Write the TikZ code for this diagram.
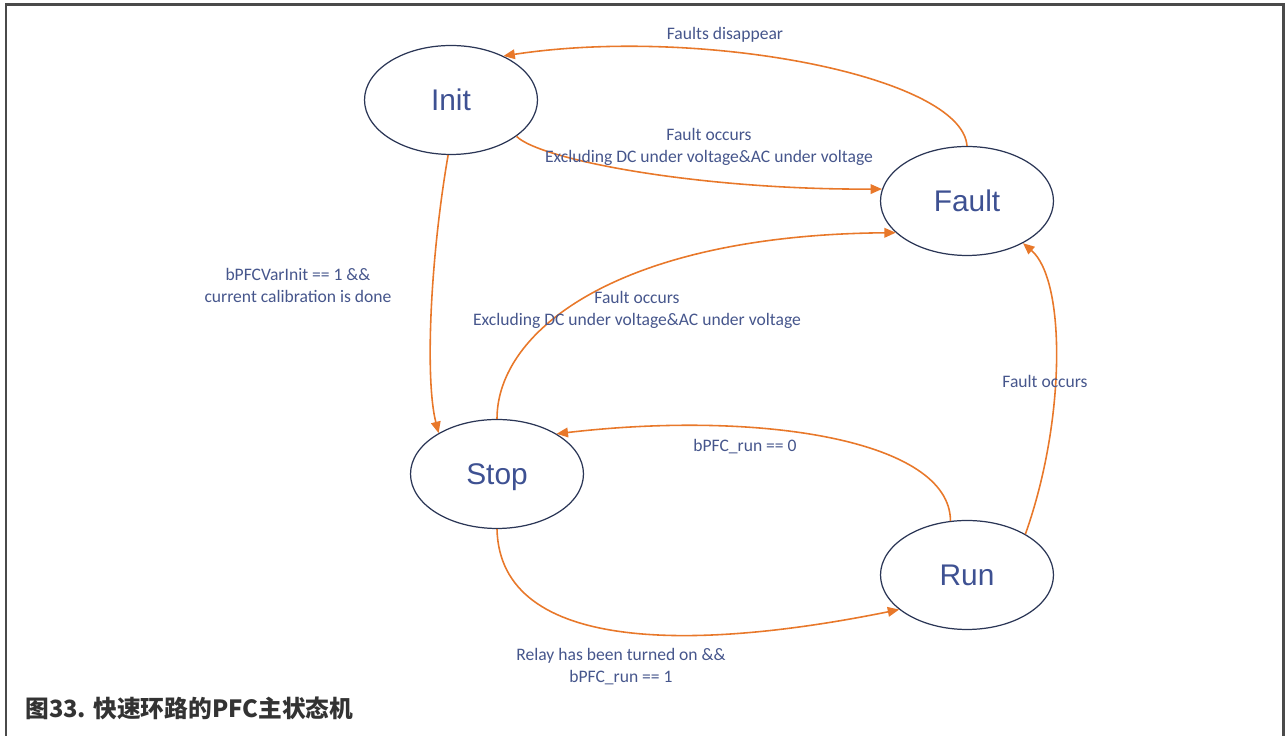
\documentclass[tikz,border=0pt]{standalone}
\usepackage{fontspec}
\setmainfont{Carlito}
\newfontfamily\statefont{Liberation Sans}
\newfontfamily\capfont{Noto Sans CJK SC}
\usetikzlibrary{arrows.meta,shapes.geometric}
\definecolor{stateline}{RGB}{43,54,86}
\definecolor{statetext}{RGB}{62,81,146}
\definecolor{condtext}{RGB}{70,86,140}
\definecolor{transorange}{RGB}{232,120,42}
\definecolor{frameline}{RGB}{74,74,74}
\definecolor{captext}{RGB}{51,51,51}

\begin{document}
\begin{tikzpicture}[x=0.02cm, y=0.02cm, >=Triangle,
  state/.style={ellipse, draw=stateline, line width=0.7pt,
    minimum width=3.46cm, minimum height=2.18cm, inner sep=0pt,
    text height=12.2pt, text depth=0pt,
    font=\statefont\fontsize{17}{20}\selectfont, text=statetext},
  trans/.style={-{Triangle[length=6.5pt,width=5.5pt]}, draw=transorange, line width=0.9pt},
  cond/.style={font=\fontsize{10}{12.5}\selectfont, text=condtext, align=center, inner sep=0pt}]
\useasboundingbox (0,0) rectangle (1286,736);
\draw[frameline, line width=1.7pt] (6,0) -- (6,731) -- (1283,731) -- (1283,0);

% states
\node[state] (init)  at (451,636) {Init};
\node[state] (fault) at (967,535) {Fault};
\node[state] (stop)  at (497,262) {Stop};
\node[state] (run)   at (967,161) {Run};

% transitions
\draw[trans] (fault.90) .. controls (962,660) and (700,710) .. (init.40);
\draw[trans] (init.-29) .. controls (540,576) and (700,546) .. (fault.172);
\draw[trans] (init.-93) .. controls (430,476) and (425,356) .. (stop.145);
\draw[trans] (stop.90) .. controls (497,406) and (620,501) .. (fault.204);
\draw[trans] (run.107) .. controls (950,296) and (760,326) .. (stop.34);
\draw[trans] (run.35) .. controls (1066,316) and (1066,456) .. (fault.-37);
\draw[trans] (stop.-90) .. controls (500,81) and (700,86) .. (run.207);

% conditions
\node[cond] (fd)    at (725,701) {Faults disappear};
\node[cond] (fo1)   at (709,589) {Fault occurs\\Excluding DC under voltage\&AC under voltage};
\node[cond] (vinit) at (298,451) {bPFCVarInit == 1 \&\&\\current calibration is done};
\node[cond] (fo2)   at (637,426) {Fault occurs\\Excluding DC under voltage\&AC under voltage};
\node[cond] (run0)  at (745,289) {bPFC\_run == 0};
\node[cond] (fo3)   at (1045,355) {Fault occurs};
\node[cond] (relay) at (621,69)  {Relay has been turned on \&\&\\bPFC\_run == 1};

\node[anchor=west, inner sep=0pt, text=captext, font=\capfont\bfseries\fontsize{13.5}{16}\selectfont]
  (cap) at (25,28) {图33. 快速环路的PFC主状态机};
\end{tikzpicture}
\end{document}
